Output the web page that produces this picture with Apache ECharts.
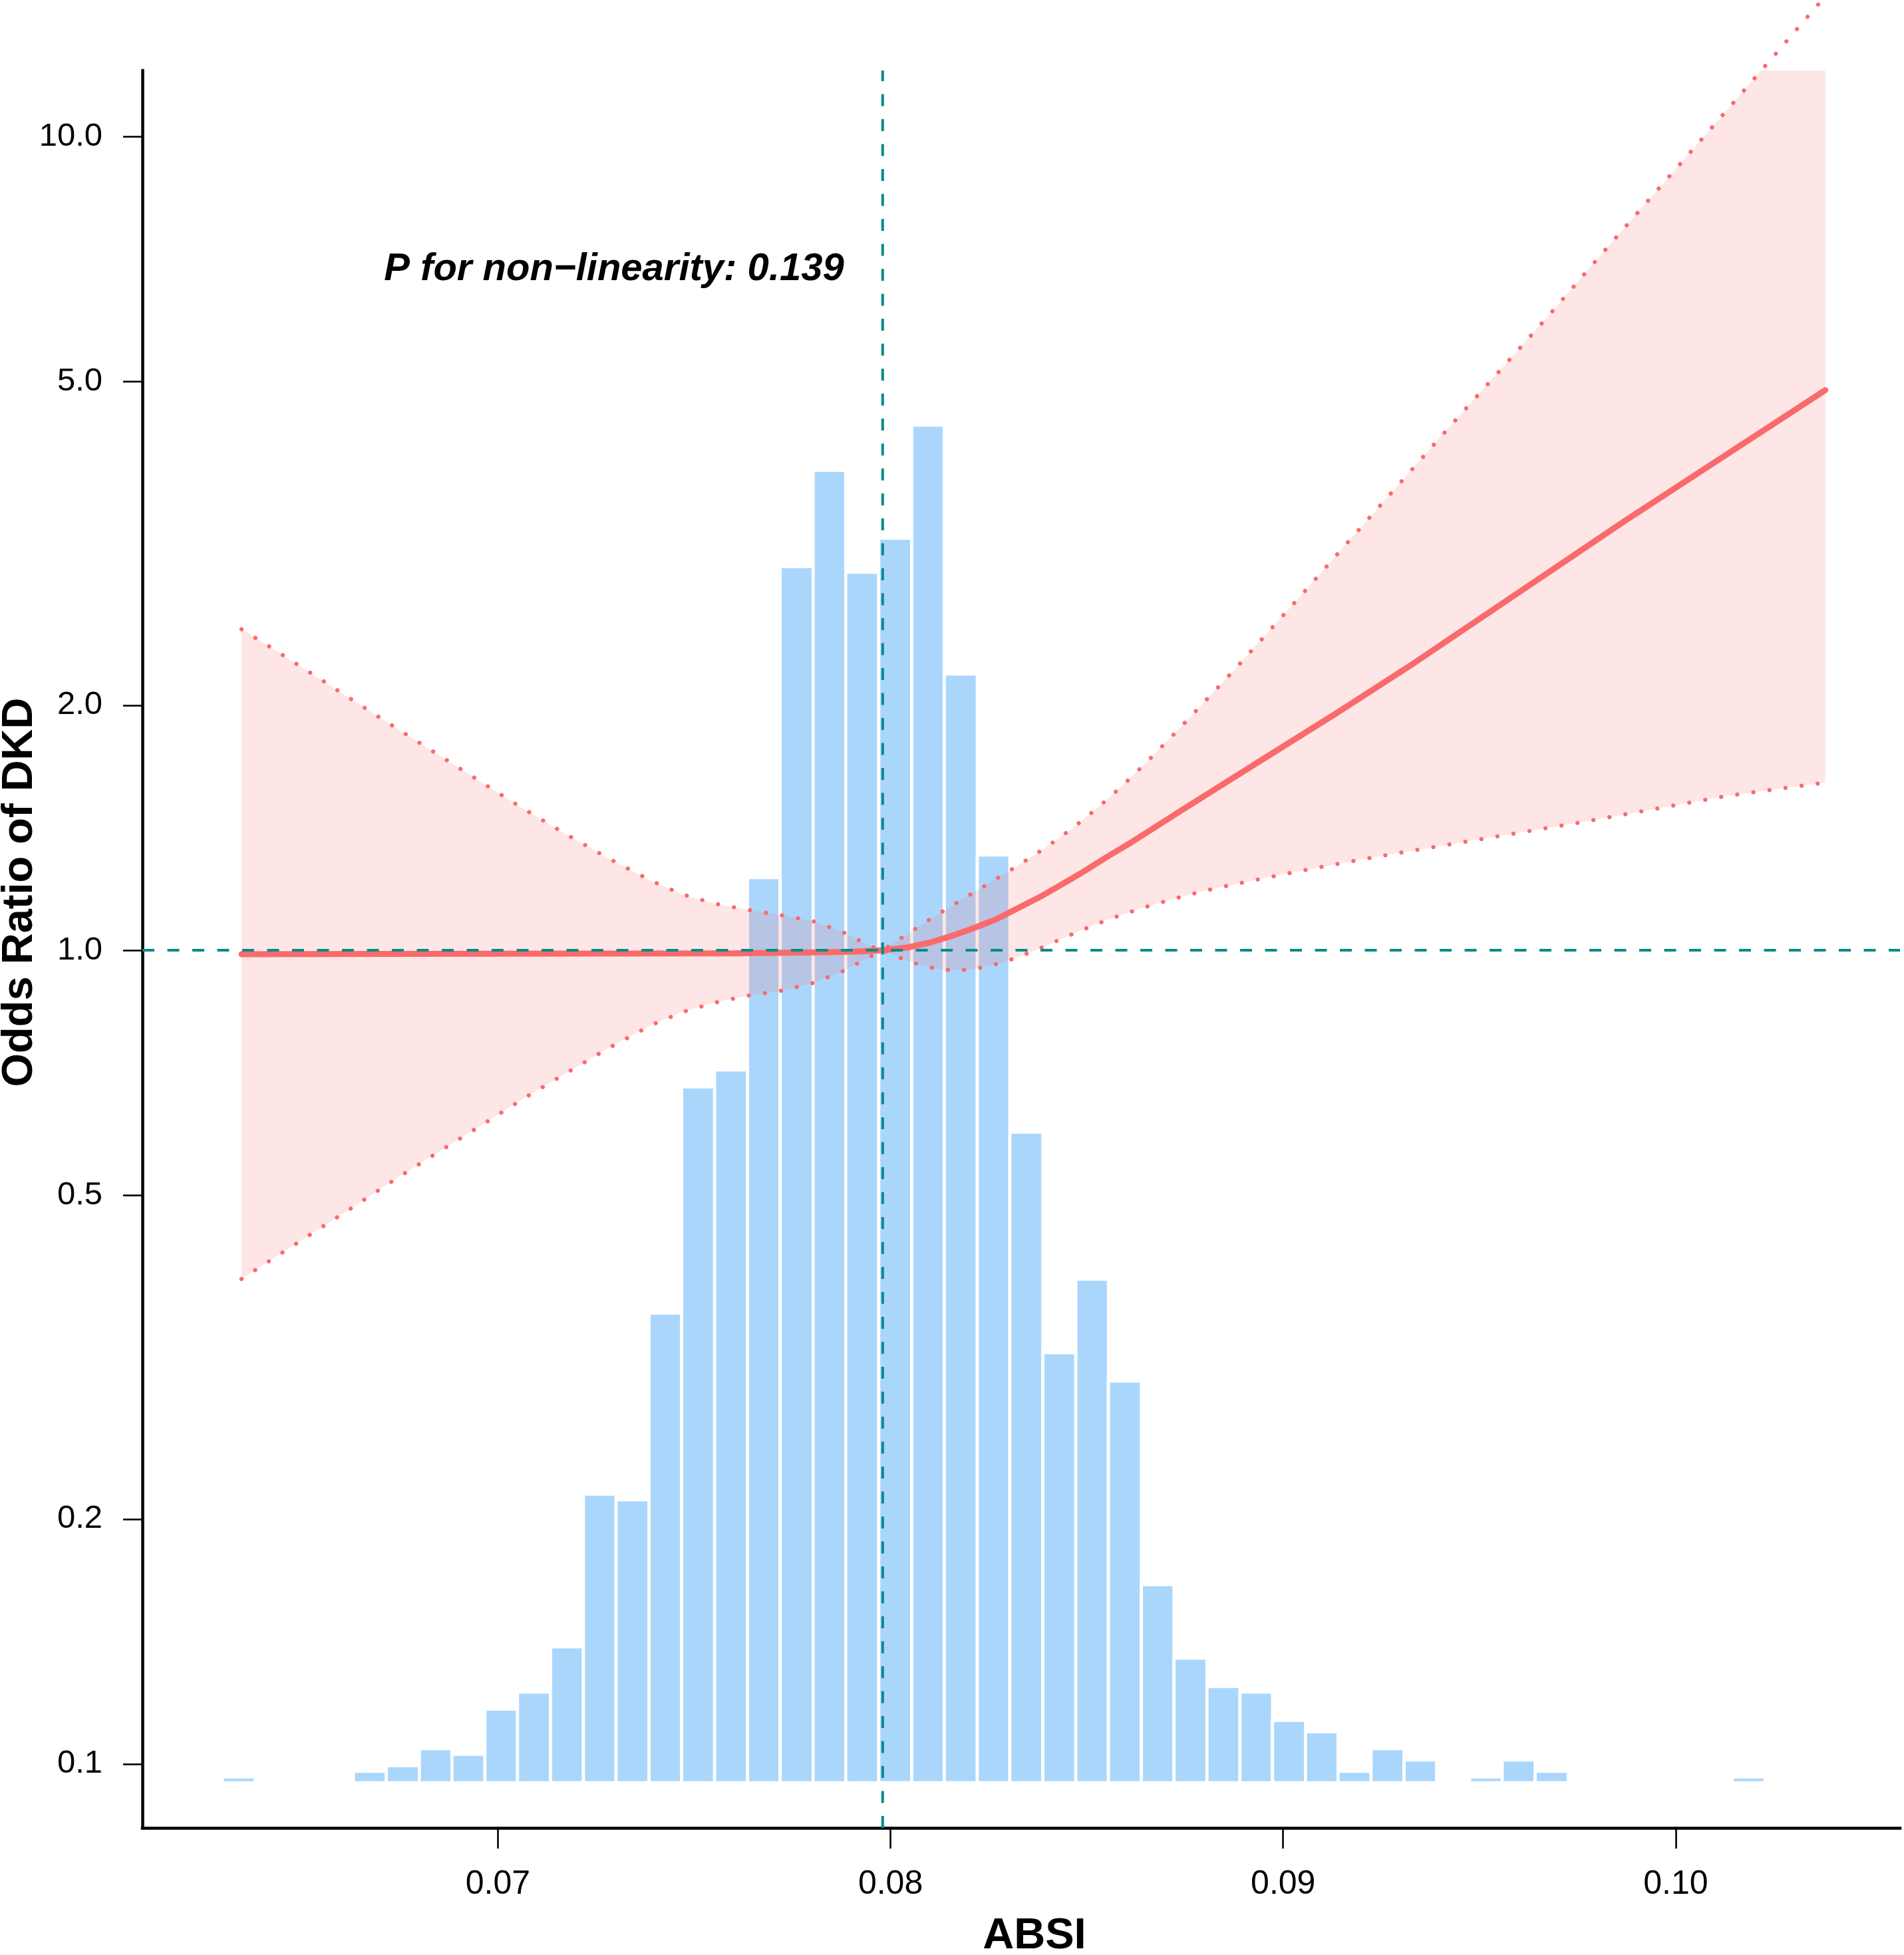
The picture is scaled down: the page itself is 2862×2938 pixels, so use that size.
<!DOCTYPE html>
<html>
<head>
<meta charset="utf-8">
<script src="https://cdn.jsdelivr.net/npm/echarts@6/dist/echarts.min.js"></script>
<style>
  html, body { margin: 0; padding: 0; background: #fff; }
  #chart { width: 2862px; height: 2938px; }
</style>
</head>
<body>
<div id="chart"></div>
<script>
// ---- data ----
// fitted odds ratio
var orX = [0.06347, 0.0700, 0.0760, 0.0780, 0.07904, 0.0798, 0.08042, 0.08098, 0.08155, 0.08211,
  0.08268, 0.08324, 0.08381, 0.08437, 0.08494, 0.0855, 0.08607, 0.087473, 0.089418, 0.091363,
  0.093244, 0.09868, 0.10381];
var orY = [0.989, 0.990, 0.991, 0.994, 0.9957, 1.000, 1.0076, 1.021, 1.041, 1.064,
  1.091, 1.126, 1.163, 1.205, 1.251, 1.301, 1.351, 1.492, 1.709, 1.956,
  2.239, 3.364, 4.879];

// upper 95% CI
var upperX = [0.06347, 0.064185, 0.065256, 0.066325, 0.067394, 0.068465, 0.069534, 0.070603, 0.071698, 0.072803,
  0.073907, 0.074704, 0.075526, 0.076358, 0.077190, 0.078021, 0.078804, 0.079516, 0.0798, 0.080324,
  0.081036, 0.081752, 0.082481, 0.083205, 0.083916, 0.084608, 0.085262, 0.085897, 0.086500, 0.087097,
  0.087681, 0.088258, 0.088835, 0.09053, 0.09166, 0.09305, 0.09417, 0.09557, 0.09671, 0.09808,
  0.09920, 0.10059, 0.10197, 0.10381];
var upperY = [2.480, 2.361, 2.188, 2.026, 1.877, 1.741, 1.614, 1.497, 1.392, 1.298,
  1.217, 1.171, 1.141, 1.121, 1.105, 1.086, 1.052, 1.010, 1.000, 1.039,
  1.094, 1.149, 1.206, 1.267, 1.333, 1.409, 1.494, 1.591, 1.698, 1.817,
  1.945, 2.083, 2.232, 2.754, 3.177, 3.785, 4.359, 5.188, 5.984, 7.139,
  8.236, 9.832, 11.73, 14.87];

// lower 95% CI
var lowerX = [0.06347, 0.064185, 0.065256, 0.066325, 0.067394, 0.068465, 0.069534, 0.070603, 0.071698, 0.072803,
  0.073907, 0.074704, 0.075526, 0.076358, 0.077190, 0.078021, 0.078804, 0.079516, 0.0798, 0.080295,
  0.080702, 0.081109, 0.081527, 0.081951, 0.082363, 0.082781, 0.083181, 0.083578, 0.083967, 0.084357,
  0.084737, 0.085528, 0.086333, 0.087143, 0.087959, 0.088790, 0.089620, 0.090450, 0.091281, 0.092116,
  0.092946, 0.09751, 0.10128, 0.10381];
var lowerY = [0.3945, 0.4153, 0.4484, 0.4840, 0.5234, 0.5643, 0.6075, 0.6550, 0.7044, 0.7574,
  0.8091, 0.8397, 0.8621, 0.8793, 0.8910, 0.9113, 0.9432, 0.9837, 1.000, 0.976,
  0.961, 0.950, 0.945, 0.946, 0.953, 0.964, 0.978, 0.995, 1.013, 1.033,
  1.052, 1.090, 1.124, 1.154, 1.182, 1.206, 1.229, 1.252, 1.274, 1.296,
  1.317, 1.434, 1.547, 1.607];

// histogram of ABSI (bin edges + counts)
var binEdges = [0.06298, 0.06382, 0.06465, 0.06549, 0.06632, 0.06716, 0.06800, 0.06883, 0.06967, 0.07050,
  0.07134, 0.07218, 0.07301, 0.07385, 0.07468, 0.07552, 0.07636, 0.07719, 0.07803, 0.07886,
  0.07970, 0.08054, 0.08137, 0.08221, 0.08304, 0.08388, 0.08472, 0.08555, 0.08639, 0.08722,
  0.08806, 0.08890, 0.08973, 0.09057, 0.09140, 0.09224, 0.09308, 0.09391, 0.09475, 0.09558,
  0.09642, 0.09726, 0.09809, 0.09893, 0.09976, 0.10060, 0.10144, 0.10227];
var binCounts = [1, 0, 0, 0, 2, 3, 6, 5, 13, 16,
  24, 51, 50, 83, 123, 126, 160, 215, 232, 214,
  220, 240, 196, 164, 115, 76, 89, 71, 35, 22,
  17, 16, 11, 9, 2, 6, 4, 0, 1, 4,
  2, 0, 0, 0, 0, 0, 1];

var xTicks = [0.07, 0.08, 0.09, 0.10];
var xTickLabels = ['0.07', '0.08', '0.09', '0.10'];
var yTicks = [0.1, 0.2, 0.5, 1, 2, 5, 10];
var yTickLabels = ['0.1', '0.2', '0.5', '1.0', '2.0', '5.0', '10.0'];

var refX = 0.0798;   // reference ABSI (OR = 1)
var refY = 1;
var xMin = 0.060945, xMax = 0.105712;
var yMin = 0.08346, yMax = 12.05;
var histMax = 300;

var FONT = '"Liberation Sans", Arial, Helvetica, sans-serif';
var RED = '#F96B6B';
var TEAL = '#008B8B';
var BLUE = '#ABD6FC';

var chart = echarts.init(document.getElementById('chart'));

function pickLabel(ticks, labels) {
  return function (v) {
    for (var i = 0; i < ticks.length; i++) {
      if (Math.abs(ticks[i] - v) < 1e-9) return labels[i];
    }
    return '';
  };
}

function pairs(xs, ys) {
  return xs.map(function (x, i) { return [x, ys[i]]; });
}

var histData = [];
for (var i = 0; i < binCounts.length; i++) {
  if (binCounts[i] > 0) histData.push([binEdges[i], binEdges[i + 1], binCounts[i]]);
}

var option = {
  animation: false,
  backgroundColor: '#fff',
  grid: [
    { left: 214, right: 6, top: 106, bottom: 191 },
    { left: 214, right: 6, top: 129, bottom: 259 }   // histogram layer
  ],
  xAxis: [
    {
      type: 'value', gridIndex: 0, min: xMin, max: xMax,
      axisLine: { show: true, onZero: false, lineStyle: { color: '#000', width: 4.5, cap: 'square' } },
      axisTick: { show: true, customValues: xTicks, length: 31, lineStyle: { color: '#000', width: 2.6 } },
      axisLabel: { customValues: xTicks, formatter: pickLabel(xTicks, xTickLabels),
        fontSize: 50, color: '#000', fontFamily: FONT, margin: 60 },
      splitLine: { show: false }
    },
    { type: 'value', gridIndex: 1, min: xMin, max: xMax, show: false }
  ],
  yAxis: [
    {
      type: 'log', logBase: 10, gridIndex: 0, min: yMin, max: yMax,
      axisLine: { show: true, lineStyle: { color: '#000', width: 4.5, cap: 'square' } },
      axisTick: { show: true, customValues: yTicks, length: 29, lineStyle: { color: '#000', width: 2.6 } },
      axisLabel: { customValues: yTicks, formatter: pickLabel(yTicks, yTickLabels),
        fontSize: 49, color: '#000', fontFamily: FONT, margin: 60 },
      splitLine: { show: false }
    },
    { type: 'value', gridIndex: 1, min: 0, max: histMax, show: false }
  ],
  series: [
    {
      // histogram bars
      type: 'custom', xAxisIndex: 1, yAxisIndex: 1,
      data: histData,
      encode: { x: [0, 1], y: 2 },
      renderItem: function (params, api) {
        var a = api.coord([api.value(0), 0]);
        var b = api.coord([api.value(1), api.value(2)]);
        return {
          type: 'rect',
          shape: { x: a[0], y: b[1], width: b[0] - a[0], height: a[1] - b[1] },
          style: { fill: BLUE, stroke: '#fff', lineWidth: 4.7 }
        };
      }
    },
    {
      // confidence band, clipped to the plot box
      type: 'custom', xAxisIndex: 0, yAxisIndex: 0, clip: true,
      data: [[orX[0], orY[0]]],
      renderItem: function (params, api) {
        var pts = [];
        for (var i = 0; i < upperX.length; i++) {
          pts.push(api.coord([upperX[i], upperY[i]]));
        }
        for (var j = lowerX.length - 1; j >= 0; j--) {
          pts.push(api.coord([lowerX[j], lowerY[j]]));
        }
        return {
          type: 'polygon',
          shape: { points: pts },
          style: { fill: 'rgba(248,107,107,0.17)' }
        };
      }
    },
    {
      type: 'line', data: pairs(upperX, upperY), showSymbol: false, clip: false,
      lineStyle: { color: RED, width: 6.2, type: [0.1, 24.3], cap: 'round' }
    },
    {
      type: 'line', data: pairs(lowerX, lowerY), showSymbol: false,
      lineStyle: { color: RED, width: 6.2, type: [0.1, 24.3], cap: 'round' }
    },
    {
      type: 'line', data: pairs(orX, orY), showSymbol: false,
      lineStyle: { color: RED, width: 9, cap: 'round', join: 'round' }
    },
    {
      type: 'line', data: [[xMin, refY], [xMax, refY]], showSymbol: false,
      lineStyle: { color: TEAL, width: 4, type: [18, 19.5] }
    },
    {
      type: 'line', data: [[refX, yMin], [refX, yMax]], showSymbol: false,
      lineStyle: { color: TEAL, width: 4, type: [18, 19.5] }
    }
  ],
  graphic: [
    {
      type: 'text', x: 923, y: 405,
      style: { text: 'P for non\u2212linearity: 0.139', font: 'italic bold 58px ' + FONT,
        fill: '#000', textAlign: 'center', textVerticalAlign: 'middle' }
    },
    {
      type: 'text', x: 1555, y: 2910,
      style: { text: 'ABSI', font: 'bold 65px ' + FONT, fill: '#000',
        textAlign: 'center', textVerticalAlign: 'middle' }
    },
    {
      type: 'text', x: 30, y: 1341, rotation: Math.PI / 2,
      style: { text: 'Odds Ratio of DKD', font: 'bold 65px ' + FONT, fill: '#000',
        textAlign: 'center', textVerticalAlign: 'middle' }
    }
  ]
};

chart.setOption(option);
</script>
</body>
</html>
